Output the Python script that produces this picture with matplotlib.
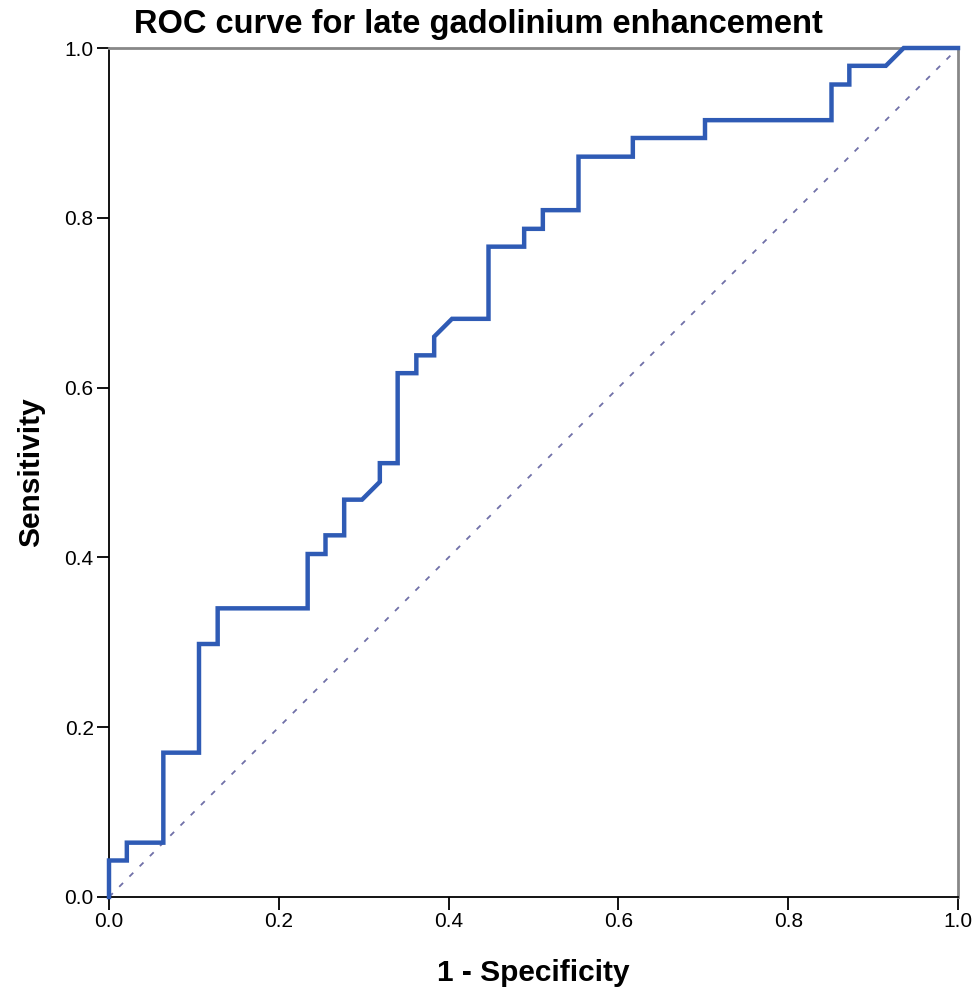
import matplotlib
matplotlib.use("Agg")
import matplotlib.pyplot as plt

plt.rcParams["font.family"] = ["Liberation Sans", "DejaVu Sans"]

# ROC curve vertices (1 - specificity, sensitivity)
fpr = [0.0, 0.0, 0.021, 0.021, 0.064, 0.064, 0.106, 0.106, 0.128, 0.128,
       0.234, 0.234, 0.255, 0.255, 0.277, 0.277, 0.298, 0.319, 0.319, 0.340,
       0.340, 0.362, 0.362, 0.383, 0.383, 0.404, 0.447, 0.447, 0.489, 0.489,
       0.511, 0.511, 0.553, 0.553, 0.617, 0.617, 0.702, 0.702, 0.851, 0.851,
       0.872, 0.872, 0.915, 0.936, 1.0]
tpr = [0.0, 0.043, 0.043, 0.064, 0.064, 0.170, 0.170, 0.298, 0.298, 0.340,
       0.340, 0.404, 0.404, 0.426, 0.426, 0.468, 0.468, 0.489, 0.511, 0.511,
       0.617, 0.617, 0.638, 0.638, 0.660, 0.681, 0.681, 0.766, 0.766, 0.787,
       0.787, 0.809, 0.809, 0.872, 0.872, 0.894, 0.894, 0.915, 0.915, 0.957,
       0.957, 0.979, 0.979, 1.0, 1.0]
ref_line = [0.0, 1.0]
ticks = [0.0, 0.2, 0.4, 0.6, 0.8, 1.0]
tick_labels = ["0.0", "0.2", "0.4", "0.6", "0.8", "1.0"]

W, H = 977, 989
fig = plt.figure(figsize=(W / 100, H / 100), dpi=100)
ax = fig.add_axes([109 / W, 1 - 897 / H, 849 / W, 849 / H])

ax.plot(ref_line, ref_line, color="#7070a8", lw=1.3, ls=(0, (3, 5)), zorder=2)
ax.plot(fpr, tpr, color="#2f5bb5", lw=3.2, solid_joinstyle="miter", zorder=3, clip_on=False)

ax.set_xlim(0, 1)
ax.set_ylim(0, 1)
ax.set_xticks(ticks)
ax.set_xticklabels(tick_labels)
ax.set_yticks(ticks)
ax.set_yticklabels(tick_labels)
ax.tick_params(axis="both", direction="out", length=9, width=1.3, labelsize=15,
               colors="black", pad=2)

for side in ["left", "bottom"]:
    ax.spines[side].set_color("black")
    ax.spines[side].set_linewidth(1.3)
for side in ["top", "right"]:
    ax.spines[side].set_color("#888888")
    ax.spines[side].set_linewidth(2.0)

ax.set_xlabel("1 - Specificity", fontsize=21.5, fontweight="bold", labelpad=20)
ax.set_ylabel("Sensitivity", fontsize=21.5, fontweight="bold", labelpad=14)

fig.text(478 / W, 1 - 25 / H, "ROC curve for late gadolinium enhancement",
         ha="center", va="center", fontsize=23.5, fontweight="bold")

fig.savefig("out.png", dpi=100)
